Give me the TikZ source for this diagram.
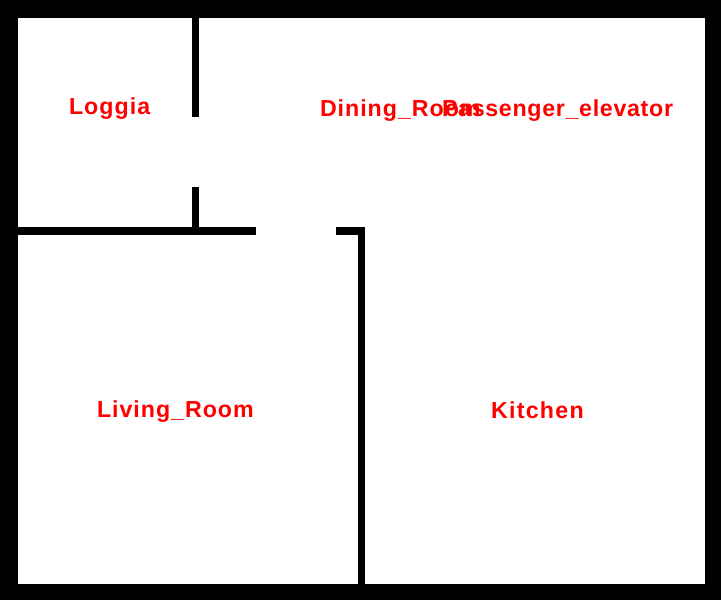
\documentclass[tikz,border=0pt]{standalone}
\usepackage{fontspec}
\setmainfont{Liberation Sans}[Ligatures=NoCommon]
\begin{document}
\begin{tikzpicture}[x=1pt,y=-1pt,
  wall/.style={fill=black,draw=none},
  room/.style={text=red,font=\fontsize{23.2pt}{26pt}\selectfont\bfseries,anchor=base west,inner sep=0pt,outer sep=0pt}]
\useasboundingbox (0,0) rectangle (721,600);
\fill[black] (0,0) rectangle (721,600);
\fill[white] (18,18) rectangle (705,584);
\fill[wall] (192,18) rectangle (199,117);
\fill[wall] (192,187) rectangle (199,230);
\fill[wall] (18,227) rectangle (256,235);
\fill[wall] (336,227) rectangle (365,235);
\fill[wall] (358,227) rectangle (365,584);
\node[room] (loggia) at (69,114) {\addfontfeature{LetterSpace=4.5}Loggia};
\node[room] (dining) at (320,116) {\addfontfeature{LetterSpace=4.2}Dining\_Room};
\node[room] (elevator) at (442,116) {\addfontfeature{LetterSpace=3}Passenger\_elevator};
\node[room] (living) at (97,417) {\addfontfeature{LetterSpace=4.2}Living\_Room};
\node[room] (kitchen) at (491,418) {\addfontfeature{LetterSpace=5.5}Kitchen};
\end{tikzpicture}
\end{document}
